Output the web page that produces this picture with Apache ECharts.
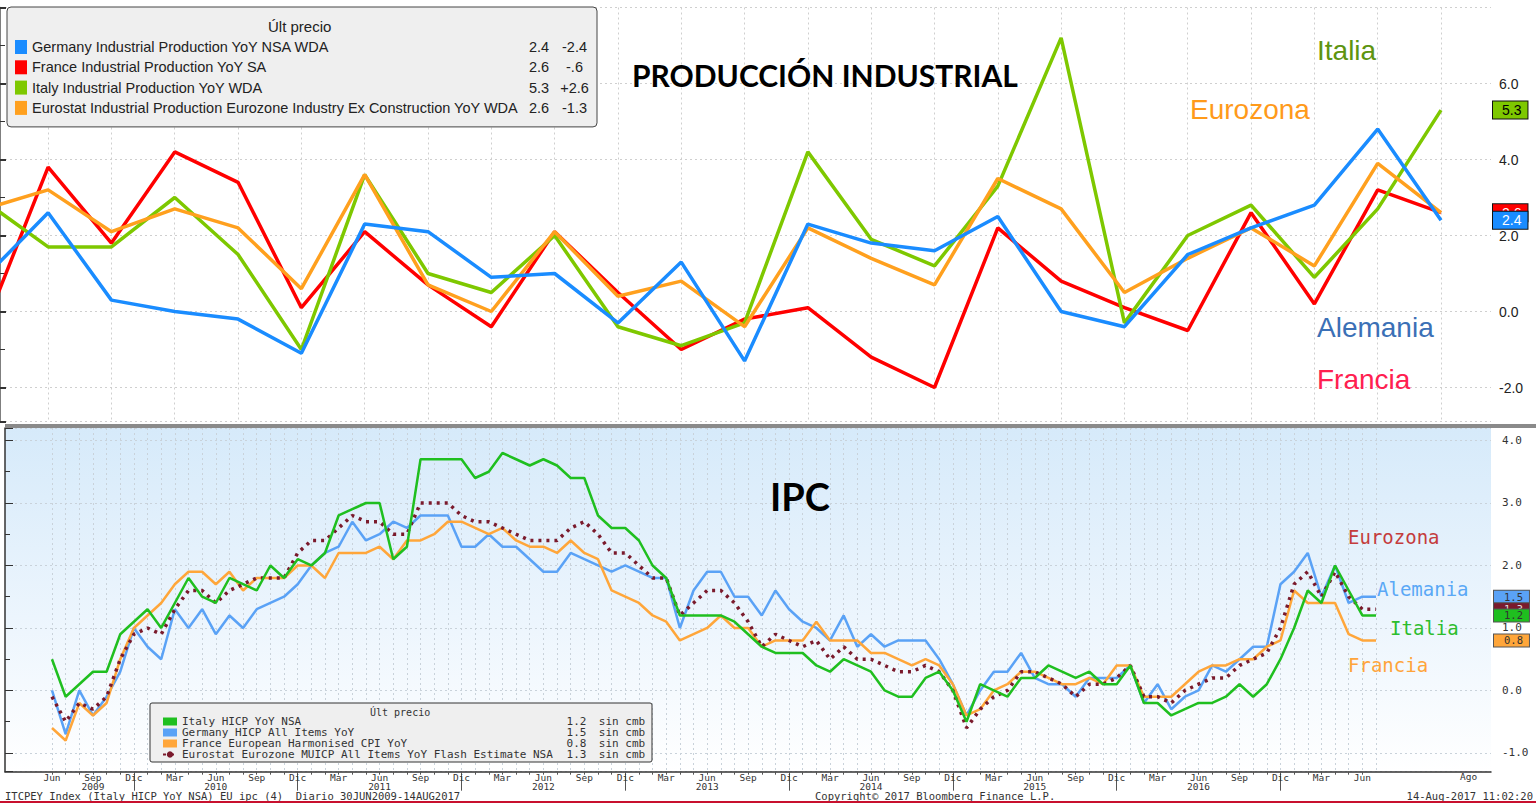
<!DOCTYPE html>
<html>
<head>
<meta charset="utf-8">
<title>Producción industrial e IPC</title>
<script src="https://cdn.jsdelivr.net/npm/echarts@6/dist/echarts.min.js"></script>
<style>
  html, body { margin: 0; padding: 0; background: #fff; }
  #main { width: 1536px; height: 803px; }
</style>
</head>
<body>
<div id="main"></div>
<script>
var mesesEs = ['Ene', 'Feb', 'Mar', 'Abr', 'May', 'Jun', 'Jul', 'Ago', 'Sep', 'Oct', 'Nov', 'Dic'];
function monthRange(year, month, n) {
  var out = [];
  for (var i = 0; i < n; i++) {
    var k = month + i;
    out.push(mesesEs[k % 12] + ' ' + (year + Math.floor(k / 12)));
  }
  return out;
}

// ---- produccion industrial, % interanual (jul 2015 - jun 2017)
var ipMonths = monthRange(2015, 6, 24);
var ipGermany = [0.9, 2.6, 0.3, 0.0, -0.2, -1.1, 2.3, 2.1, 0.9, 1.0, -0.3, 1.3, -1.3, 2.3, 1.8, 1.6, 2.5, 0.0, -0.4, 1.5, 2.2, 2.8, 4.8, 2.4];
var ipFrance = [-0.4, 3.8, 1.8, 4.2, 3.4, 0.1, 2.1, 0.7, -0.4, 2.1, 0.5, -1.0, -0.2, 0.1, -1.2, -2.0, 2.2, 0.8, 0.1, -0.5, 2.6, 0.2, 3.2, 2.6];
var ipItaly = [2.9, 1.7, 1.7, 3.0, 1.5, -1.0, 3.6, 1.0, 0.5, 2.0, -0.4, -0.9, -0.3, 4.2, 1.9, 1.2, 3.3, 7.2, -0.3, 2.0, 2.8, 0.9, 2.7, 5.3];
var ipEurozone = [2.7, 3.2, 2.1, 2.7, 2.2, 0.6, 3.6, 0.7, 0.0, 2.1, 0.4, 0.8, -0.4, 2.2, 1.4, 0.7, 3.5, 2.7, 0.5, 1.4, 2.2, 1.2, 3.9, 2.6];
var ipNames = [
  'Germany Industrial Production YoY NSA WDA',
  'France Industrial Production YoY SA',
  'Italy Industrial Production YoY WDA',
  'Eurostat Industrial Production Eurozone Industry Ex Construction YoY WDA'
];
var ipChange = ['-2.4', '-.6', '+2.6', '-1.3'];

// ---- IPC armonizado, % interanual (jun 2009 - jul 2017)
var cpiMonths = monthRange(2009, 5, 98);
var cpiItaly = [
  0.5, -0.1, 0.1, 0.3, 0.3, 0.9, 1.1, 1.3, 1.0, 1.4, 1.8, 1.5,
  1.4, 1.8, 1.7, 1.6, 2.0, 1.8, 2.1, 2.0, 2.2, 2.8, 2.9, 3.0,
  3.0, 2.1, 2.3, 3.7, 3.7, 3.7, 3.7, 3.4, 3.5, 3.8, 3.7, 3.6,
  3.7, 3.6, 3.4, 3.4, 2.8, 2.6, 2.6, 2.4, 2.0, 1.8, 1.2, 1.2,
  1.2, 1.2, 1.1, 0.9, 0.7, 0.6, 0.6, 0.6, 0.4, 0.3, 0.5, 0.4,
  0.3, 0.0, -0.1, -0.1, 0.2, 0.3, 0.0, -0.5, 0.1, 0.0, -0.1, 0.2,
  0.2, 0.4, 0.3, 0.2, 0.3, 0.1, 0.1, 0.4, -0.2, -0.2, -0.4, -0.3,
  -0.2, -0.2, -0.1, 0.1, -0.1, 0.1, 0.5, 1.0, 1.6, 1.4, 2.0, 1.6, 1.2, 1.2
];
var cpiGermany = [
  0.0, -0.7, 0.0, -0.4, -0.1, 0.3, 1.0, 0.7, 0.5, 1.3, 1.0, 1.3,
  0.9, 1.2, 1.0, 1.3, 1.4, 1.5, 1.7, 2.0, 2.2, 2.3, 2.7, 2.4,
  2.5, 2.7, 2.6, 2.8, 2.8, 2.8, 2.3, 2.3, 2.5, 2.3, 2.3, 2.1,
  1.9, 1.9, 2.2, 2.1, 2.0, 1.9, 2.0, 1.9, 1.8, 1.8, 1.0, 1.6,
  1.9, 1.9, 1.5, 1.5, 1.2, 1.6, 1.3, 1.1, 1.0, 0.8, 1.2, 0.7,
  0.9, 0.7, 0.8, 0.8, 0.8, 0.5, 0.1, -0.4, 0.0, 0.3, 0.3, 0.6,
  0.2, 0.1, 0.1, -0.1, 0.2, 0.2, 0.2, 0.4, -0.2, 0.1, -0.3, -0.1,
  0.0, 0.4, 0.3, 0.5, 0.7, 0.7, 1.7, 1.9, 2.2, 1.5, 2.0, 1.4, 1.5, 1.5
];
var cpiFrance = [
  -0.6, -0.8, -0.2, -0.4, -0.2, 0.5, 1.0, 1.2, 1.4, 1.7, 1.9, 1.9,
  1.7, 1.9, 1.6, 1.8, 1.8, 1.8, 2.0, 2.0, 1.8, 2.2, 2.2, 2.2,
  2.3, 2.1, 2.4, 2.4, 2.5, 2.7, 2.7, 2.6, 2.5, 2.6, 2.4, 2.3,
  2.3, 2.2, 2.4, 2.2, 2.1, 1.6, 1.5, 1.4, 1.2, 1.1, 0.8, 0.9,
  1.0, 1.2, 1.0, 1.0, 0.7, 0.8, 0.8, 0.8, 1.1, 0.8, 0.8, 0.8,
  0.6, 0.6, 0.5, 0.4, 0.5, 0.4, 0.1, -0.4, -0.3, 0.0, 0.1, 0.3,
  0.3, 0.2, 0.1, 0.1, 0.2, 0.1, 0.4, 0.4, -0.1, -0.1, -0.1, 0.1,
  0.3, 0.4, 0.4, 0.5, 0.5, 0.7, 0.8, 1.6, 1.4, 1.4, 1.4, 0.9, 0.8, 0.8
];
var cpiEurozone = [
  -0.1, -0.5, -0.2, -0.3, -0.1, 0.5, 0.9, 1.0, 0.9, 1.3, 1.6, 1.6,
  1.4, 1.6, 1.7, 1.8, 1.8, 1.8, 2.2, 2.4, 2.4, 2.6, 2.8, 2.7,
  2.7, 2.5, 2.5, 3.0, 3.0, 3.0, 2.8, 2.7, 2.7, 2.6, 2.5, 2.4,
  2.4, 2.4, 2.6, 2.7, 2.5, 2.2, 2.2, 2.0, 1.8, 1.8, 1.2, 1.4,
  1.6, 1.6, 1.4, 1.1, 0.7, 0.9, 0.8, 0.7, 0.8, 0.5, 0.7, 0.5,
  0.5, 0.4, 0.3, 0.3, 0.4, 0.3, 0.0, -0.6, -0.3, -0.1, 0.0, 0.3,
  0.3, 0.2, 0.1, -0.1, 0.1, 0.1, 0.2, 0.4, -0.1, -0.1, -0.2, 0.0,
  0.1, 0.2, 0.2, 0.4, 0.5, 0.6, 1.0, 1.7, 1.9, 1.5, 1.9, 1.5, 1.3, 1.3
];
var cpiNames = [
  'Italy HICP YoY NSA',
  'Germany HICP All Items YoY',
  'France European Harmonised CPI YoY',
  'Eurostat Eurozone MUICP All Items YoY Flash Estimate NSA'
];
var cpiQuarterMonths = ['Mar', 'Jun', 'Sep', 'Dic'];
var cpiYearLabels = {
  'Sep 2009': '2009', 'Jun 2010': '2010', 'Jun 2011': '2011', 'Jun 2012': '2012',
  'Jun 2013': '2013', 'Jun 2014': '2014', 'Jun 2015': '2015', 'Jun 2016': '2016', 'Jul 2017': '2017'
};

var sans = "'Liberation Sans', Arial, sans-serif";
var bbg = "'DejaVu Sans Mono', monospace";

function last(arr) { return arr[arr.length - 1]; }

var ipData = [ipGermany, ipFrance, ipItaly, ipEurozone];
var ipColors = ['#1a8cff', '#ff0000', '#7ec800', '#ffa01e'];
var cpiData = [cpiItaly, cpiGermany, cpiFrance, cpiEurozone];
var cpiColors = ['#1fbf1f', '#5aa2f6', '#ffa63a', '#7a1a2c'];

function ipSeries(i) {
  var s = {
    name: ipNames[i], type: 'line', xAxisIndex: 1, yAxisIndex: 1,
    data: ipData[i].map(function (v, k) { return [k, v]; }),
    symbol: 'none', z: i === 0 ? 4 : 3,
    lineStyle: { color: ipColors[i], width: 3.5 },
    itemStyle: { color: ipColors[i] }
  };
  if (i < 3) {
    s.endLabel = {
      show: true, distance: 52,
      formatter: function (p) { return p.value[1].toFixed(1); },
      fontFamily: sans, fontSize: 14,
      color: i === 2 ? '#000' : '#fff',
      backgroundColor: ipColors[i], borderColor: '#111', borderWidth: 1,
      padding: [2, 6, 1, 9]
    };
  }
  return s;
}

function cpiSeries(i) {
  return {
    name: cpiNames[i], type: 'line', xAxisIndex: 3, yAxisIndex: 3,
    data: cpiData[i], symbol: 'none', z: i === 0 ? 4 : 3,
    lineStyle: i === 3
      ? { color: cpiColors[i], width: 3.5, type: [3, 5] }
      : { color: cpiColors[i], width: 2.5 },
    itemStyle: { color: cpiColors[i] },
    endLabel: {
      show: true, distance: 118,
      formatter: function (p) { return p.value.toFixed(1); },
      fontFamily: bbg, fontSize: 10.5,
      color: i === 3 ? '#ddd' : '#333',
      backgroundColor: cpiColors[i], borderColor: '#555', borderWidth: 1,
      padding: [1, 6, 0, 10]
    }
  };
}

function txt(text, left, top, font, size, color, weight, lh) {
  var st = { fontFamily: font, fontSize: size, color: color, fontWeight: weight || 'normal' };
  if (lh) st.lineHeight = lh;
  return { text: text, left: left, top: top, padding: 0, textStyle: st };
}

var chart = echarts.init(document.getElementById('main'), null, { renderer: 'svg' });

var option = {
  animation: false,
  backgroundColor: '#fff',
  title: [
    txt('PRODUCCIÓN INDUSTRIAL', 632, 60, 'Lato', 30, '#000', 'bold'),
    txt('Italia', 1317, 36, sans, 28, '#5e9410'),
    txt('Eurozona', 1190, 95, sans, 28, '#ff9a1a'),
    txt('Alemania', 1317, 313, sans, 28, '#3b70b6'),
    txt('Francia', 1317, 365, sans, 28, '#ff2050'),
    txt('Últ precio', 268, 19, sans, 15, '#222'),

    txt('IPC', 770, 477, 'Lato', 38, '#000', 'bold'),
    txt('Eurozona', 1348, 527, bbg, 19, '#c43c3c'),
    txt('Alemania', 1377, 579, bbg, 19, '#5aa8f6'),
    txt('Italia', 1390, 618, bbg, 19, '#2dbd2d'),
    txt('Francia', 1348, 655, bbg, 19, '#ffa43a'),
    txt('Últ precio', 370, 707, bbg, 10, '#333'),
    txt('Ago', 1460, 772, bbg, 9.5, '#333', 'normal', 9),

    txt('ITCPEY Index (Italy HICP YoY NSA) EU ipc (4)  Diario 30JUN2009-14AUG2017', 5, 791, bbg, 10.5, '#333', 'normal', 10),
    txt('Copyright© 2017 Bloomberg Finance L.P.', 815, 791, bbg, 10.5, '#333', 'normal', 10),
    { text: '14-Aug-2017 11:02:20', right: 3, top: 791, padding: 0,
      textStyle: { fontFamily: bbg, fontSize: 10.5, lineHeight: 10, color: '#333', fontWeight: 'normal' } }
  ],
  legend: [
    {
      data: ipNames.map(function (n) { return { name: n, icon: 'rect' }; }),
      orient: 'vertical', left: 7, top: 7,
      padding: [32, 7, 11, 8], itemGap: 4.3, itemWidth: 12, itemHeight: 14,
      backgroundColor: '#efefef', borderColor: '#444', borderWidth: 1, borderRadius: 4,
      selectedMode: false,
      formatter: function (name) {
        var i = ipNames.indexOf(name);
        return '{n|' + name + '}{v|' + last(ipData[i]).toFixed(1) + '}{c|' + ipChange[i] + '}';
      },
      textStyle: {
        fontFamily: sans, fontSize: 14.5, color: '#222', lineHeight: 16,
        rich: {
          n: { width: 496, fontFamily: sans, fontSize: 14.5, lineHeight: 16 },
          v: { width: 22, align: 'right', fontFamily: sans, fontSize: 14.5, lineHeight: 16 },
          c: { width: 31, padding: [0, 0, 0, 9], fontFamily: sans, fontSize: 14.5, lineHeight: 16 }
        }
      }
    },
    {
      data: cpiNames.map(function (n, i) { return i < 3 ? { name: n, icon: 'rect' } : { name: n }; }),
      orient: 'vertical', left: 150, top: 703,
      padding: [13, 5, 2, 12], itemGap: 0, itemWidth: 14, itemHeight: 8,
      backgroundColor: '#efefef', borderColor: '#333', borderWidth: 1, borderRadius: 2,
      selectedMode: false,
      formatter: function (name) {
        var i = cpiNames.indexOf(name);
        return '{n|' + name + '}{v|' + last(cpiData[i]).toFixed(1) + '}{c|sin cmb}';
      },
      textStyle: {
        fontFamily: bbg, fontSize: 11, color: '#333', lineHeight: 9.7,
        rich: {
          n: { width: 385, fontFamily: bbg, fontSize: 11, lineHeight: 9.7 },
          v: { width: 19, align: 'right', fontFamily: bbg, fontSize: 11, lineHeight: 9.7 },
          c: { width: 50, padding: [0, 0, 0, 11], fontFamily: bbg, fontSize: 11, lineHeight: 9.7 }
        }
      }
    }
  ],
  grid: [
    { left: 0, right: 45, top: 7.5, height: 414.2 },
    { left: 0, right: 95, top: 7.5, height: 414.2 },
    { left: 5, right: 45, top: 428, height: 343.7, show: true, borderWidth: 0,
      backgroundColor: { type: 'linear', x: 0, y: 0, x2: 0, y2: 1,
        colorStops: [{ offset: 0, color: '#d6eafa' }, { offset: 0.55, color: '#ecf5fd' }, { offset: 1, color: '#ffffff' }] } },
    { left: 52, right: 160, top: 428, height: 343.7 }
  ],
  xAxis: [
    { gridIndex: 0, type: 'value', min: 0, max: 1, show: false },
    // index axis: the first month sits just left of the visible area
    { gridIndex: 1, type: 'value', min: 0.24, max: 23, splitNumber: 23, minInterval: 1, maxInterval: 1,
      axisLine: { show: false, onZero: false }, axisTick: { show: false }, axisLabel: { show: false },
      splitLine: { show: true, showMinLine: false, lineStyle: { color: '#cfcfcf', type: [2, 3] } } },
    { gridIndex: 2, type: 'value', min: 0, max: 1, position: 'bottom',
      axisLine: { show: true, onZero: false, lineStyle: { color: '#333', width: 1.5 } },
      axisTick: { show: false }, axisLabel: { show: false }, splitLine: { show: false } },
    { gridIndex: 3, type: 'category', data: cpiMonths, boundaryGap: false, position: 'bottom',
      axisLine: { show: false, onZero: false },
      axisTick: { show: true, interval: 0, length: 3, lineStyle: { color: '#555' } },
      splitLine: { show: true, interval: 0, lineStyle: { color: '#c9d2da', type: [2, 3] } },
      axisLabel: {
        show: true, margin: 1, fontFamily: bbg, fontSize: 9.5, color: '#333', lineHeight: 9,
        interval: function (idx, val) {
          var mon = val.split(' ')[0];
          return cpiQuarterMonths.indexOf(mon) >= 0 || !!cpiYearLabels[val];
        },
        formatter: function (val) {
          var mon = val.split(' ')[0];
          var m = cpiQuarterMonths.indexOf(mon) >= 0 ? mon : '';
          var y = cpiYearLabels[val];
          return y ? m + '\n' + y : m;
        }
      } },
    { gridIndex: 3, type: 'category', data: cpiMonths, boundaryGap: false, position: 'bottom',
      axisLine: { show: false, onZero: false }, axisLabel: { show: false }, splitLine: { show: false },
      axisTick: { show: true, length: 19, lineStyle: { color: '#555' },
        interval: function (idx, val) { return val.split(' ')[0] === 'Dic'; } } }
  ],
  yAxis: [
    { gridIndex: 0, type: 'value', position: 'right', min: -2.9, max: 8, splitNumber: 5,
      axisLine: { show: true, lineStyle: { color: '#555', width: 1.5 } },
      axisTick: { show: true, length: 6, lineStyle: { color: '#333', width: 2 } },
      minorTick: { show: true, splitNumber: 2, length: 5, lineStyle: { color: '#333', width: 1 } },
      axisLabel: { margin: 8, fontFamily: sans, fontSize: 14, color: '#222',
        showMinLabel: false, showMaxLabel: false,
        formatter: function (v) { return v.toFixed(1); } },
      splitLine: { show: true, lineStyle: { color: '#cfcfcf', type: [2, 3] } } },
    { gridIndex: 1, type: 'value', min: -2.9, max: 8, show: false },
    { gridIndex: 2, type: 'value', position: 'right', min: -1.3, max: 4.2, splitNumber: 5,
      axisLine: { show: true, lineStyle: { color: '#333', width: 1.5 } },
      axisTick: { show: true, length: 8, lineStyle: { color: '#333', width: 1 } },
      minorTick: { show: true, splitNumber: 2, length: 5, lineStyle: { color: '#333', width: 1 } },
      axisLabel: { margin: 11, fontFamily: bbg, fontSize: 11, color: '#333',
        showMinLabel: false, showMaxLabel: false,
        formatter: function (v) { return v.toFixed(1); } },
      splitLine: { show: true, lineStyle: { color: '#c9d2da', type: [2, 3] } } },
    { gridIndex: 3, type: 'value', min: -1.3, max: 4.2, show: false }
  ],
  graphic: [
    { type: 'rect', shape: { x: 5, y: 424, width: 1531, height: 4 }, style: { fill: '#8a8a8a' }, z: 10 },
    { type: 'rect', shape: { x: 0, y: 801, width: 1536, height: 2 }, style: { fill: '#c8102e' }, z: 10 }
  ],
  series: [0, 1, 2, 3].map(ipSeries).concat([0, 1, 2, 3].map(cpiSeries))
};

chart.setOption(option);
</script>
</body>
</html>
